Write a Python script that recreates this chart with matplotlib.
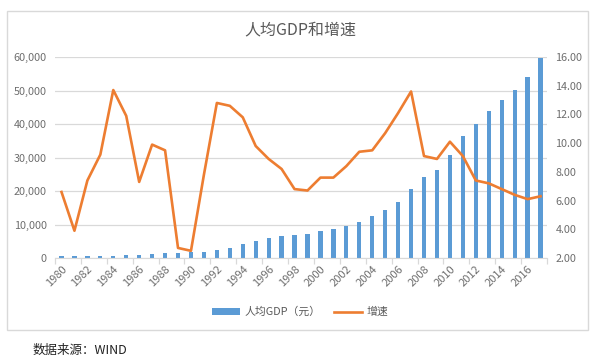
import matplotlib
matplotlib.use('Agg')
import matplotlib.pyplot as plt
from matplotlib.patches import Rectangle
import numpy as np

plt.rcParams['font.family'] = ['Noto Sans CJK SC', 'DejaVu Sans']

# 数据
years = list(range(1980, 2018))
gdp_per_capita = [468, 497, 533, 588, 702, 866, 973, 1123, 1378, 1536,
                  1663, 1912, 2334, 3027, 4081, 5091, 5898, 6481, 6860, 7229,
                  7942, 8717, 9506, 10666, 12487, 14368, 16738, 20505, 24121, 26222,
                  30876, 36403, 40007, 43852, 47203, 50251, 53935, 59660]
growth = [6.6, 3.9, 7.4, 9.2, 13.7, 11.9, 7.3, 9.9, 9.5, 2.7,
          2.5, 7.8, 12.8, 12.6, 11.8, 9.8, 8.9, 8.2, 6.8, 6.7,
          7.6, 7.6, 8.4, 9.4, 9.5, 10.7, 12.1, 13.6, 9.1, 8.9,
          10.1, 9.1, 7.4, 7.2, 6.8, 6.4, 6.1, 6.3]

bar_color = '#5B9BD5'
line_color = '#ED7D31'
text_color = '#6E6E6E'
grid_color = '#D9D9D9'

fig = plt.figure(figsize=(6, 3.62), dpi=100)
ax = fig.add_axes([0.0917, 0.2873, 0.82, 0.5552])
ax2 = ax.twinx()

x = np.arange(len(years))
ax.bar(x, gdp_per_capita, width=0.33, color=bar_color, zorder=2, label='人均GDP（元）')
ax2.plot(x, growth, color=line_color, lw=1.9, zorder=3, label='增速')

ax.set_xlim(-0.5, len(years) - 0.5)
ax.set_ylim(0, 60000)
ax.set_yticks(range(0, 60001, 10000))
ax.set_yticklabels([f'{v:,}' for v in range(0, 60001, 10000)])
ax2.set_ylim(2, 16)
ax2.set_yticks(np.arange(2, 16.01, 2))
ax2.set_yticklabels([f'{v:.2f}' for v in np.arange(2, 16.01, 2)])

ax.grid(axis='y', color=grid_color, lw=0.9, zorder=0)
ax.set_axisbelow(True)

for a in (ax, ax2):
    for s in a.spines.values():
        s.set_visible(False)
ax.spines['bottom'].set_visible(True)
ax.spines['bottom'].set_color(grid_color)

ax.tick_params(axis='y', length=0, labelsize=7.8, labelcolor=text_color, pad=6)
ax2.tick_params(axis='y', length=0, labelsize=7.8, labelcolor=text_color, pad=6)

# x 轴：刻度在类别边界，每两年一个标签
ax.set_xticks(np.arange(-0.5, len(years), 2))
ax.set_xticklabels([])
ax.tick_params(axis='x', which='major', length=4, color=grid_color, width=0.9)
ax.set_xticks(x[::2], minor=True)
ax.set_xticklabels([str(y) for y in years[::2]], minor=True, rotation=45,
                   ha='right', va='top', rotation_mode='anchor')
ax.tick_params(axis='x', which='minor', length=0, labelsize=8,
               labelcolor=text_color, pad=4)

fig.text(0.5, 1 - 30 / 362, '人均GDP和增速', ha='center', va='center',
         fontsize=11.5, color='#595959')

h1, l1 = ax.get_legend_handles_labels()
h2, l2 = ax2.get_legend_handles_labels()
fig.legend(h1 + h2, l1 + l2, loc='center', bbox_to_anchor=(0.5, 1 - 312 / 362),
           ncol=2, frameon=False, fontsize=7.8, labelcolor='#595959',
           handlelength=2.6, handleheight=0.6, columnspacing=1.2, handletextpad=0.4)

fig.patches.append(Rectangle((7 / 600, 1 - 330 / 362), 581 / 600, 319 / 362,
                             transform=fig.transFigure, fill=False,
                             edgecolor=grid_color, lw=1))

fig.text(33 / 600, 1 - 350 / 362, '数据来源：WIND', ha='left', va='center',
         fontsize=9, color='#222222')

fig.savefig('out.png', dpi=100)
